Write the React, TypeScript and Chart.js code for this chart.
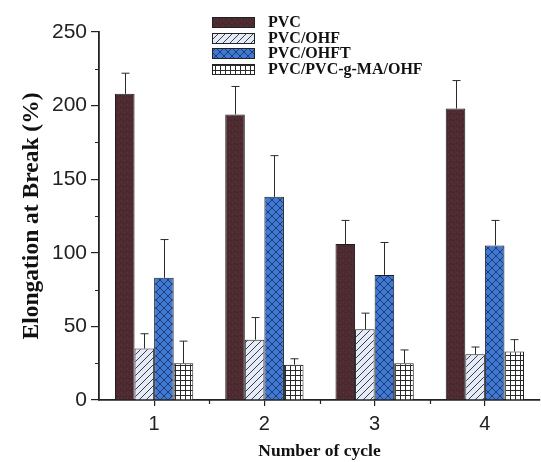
import React, { useEffect, useRef } from "react";
import { Chart, registerables } from "chart.js";
Chart.register(...registerables);

const categories = ["1", "2", "3", "4"];
const seriesNames = ["PVC", "PVC/OHF", "PVC/OHFT", "PVC/PVC-g-MA/OHF"];
const pvc = [208, 194, 106, 198];
const pvcErr = [14, 19, 16, 19];
const pvcOhf = [35, 41, 48, 31];
const pvcOhfErr = [10, 15, 11, 5];
const pvcOhft = [83, 138, 85, 105];
const pvcOhftErr = [26, 28, 22, 17];
const grafted = [25, 24, 25, 33];
const graftedErr = [15, 4, 9, 8];
const yMin = 0;
const yMax = 250;
const yStep = 50;

function makePattern(kind: string): CanvasPattern | string {
  const c = document.createElement("canvas");
  const ctx = c.getContext("2d");
  if (!ctx) return "#888";
  if (kind === "solid") {
    c.width = 6; c.height = 6;
    ctx.fillStyle = "#4d2b31";
    ctx.fillRect(0, 0, 6, 6);
    ctx.fillStyle = "#5a363c";
    ctx.fillRect(1, 2, 1, 1);
    ctx.fillRect(4, 4, 1, 1);
    ctx.fillStyle = "#3f2227";
    ctx.fillRect(3, 0, 1, 1);
    ctx.fillRect(0, 5, 1, 1);
  } else if (kind === "hatch") {
    const s = 7;
    c.width = s; c.height = s;
    ctx.fillStyle = "#e6ecf7";
    ctx.fillRect(0, 0, s, s);
    ctx.strokeStyle = "#3a3d48";
    ctx.lineWidth = 1;
    ctx.beginPath();
    ctx.moveTo(0, s); ctx.lineTo(s, 0);
    ctx.moveTo(-1, 1); ctx.lineTo(1, -1);
    ctx.moveTo(s - 1, s + 1); ctx.lineTo(s + 1, s - 1);
    ctx.stroke();
  } else if (kind === "cross") {
    const s = 8;
    c.width = s; c.height = s;
    ctx.fillStyle = "#4079d2";
    ctx.fillRect(0, 0, s, s);
    ctx.strokeStyle = "#1e3a78";
    ctx.lineWidth = 1;
    ctx.beginPath();
    ctx.moveTo(0, s); ctx.lineTo(s, 0);
    ctx.moveTo(0, 0); ctx.lineTo(s, s);
    ctx.stroke();
  } else {
    const s = 5;
    c.width = s; c.height = s;
    ctx.fillStyle = "#ffffff";
    ctx.fillRect(0, 0, s, s);
    ctx.fillStyle = "#2a2a2a";
    ctx.fillRect(0, 0, s, 1);
    ctx.fillRect(0, 0, 1, s);
  }
  return ctx.createPattern(c, "repeat") || "#888";
}

export default function App() {
  const ref = useRef<HTMLCanvasElement | null>(null);
  useEffect(() => {
    if (!ref.current) return;
    const fills = [makePattern("solid"), makePattern("hatch"), makePattern("cross"), makePattern("grid")];
    const values = [pvc, pvcOhf, pvcOhft, grafted];
    const errs = [pvcErr, pvcOhfErr, pvcOhftErr, graftedErr];

    const errorBars = {
      id: "errorBars",
      afterDatasetsDraw(chart: any) {
        const ctx = chart.ctx;
        const ys = chart.scales.y;
        ctx.save();
        ctx.strokeStyle = "#2a2a2a";
        ctx.lineWidth = 1;
        chart.data.datasets.forEach((ds: any, di: number) => {
          const meta = chart.getDatasetMeta(di);
          meta.data.forEach((bar: any, i: number) => {
            const top = ys.getPixelForValue(values[di][i] + errs[di][i]);
            const x = Math.round(bar.x) + 0.5;
            ctx.beginPath();
            ctx.moveTo(x, bar.y);
            ctx.lineTo(x, top);
            ctx.moveTo(x - 4, top);
            ctx.lineTo(x + 4, top);
            ctx.stroke();
          });
        });
        ctx.restore();
      },
    };

    const minorTicks = {
      id: "minorTicks",
      afterDraw(chart: any) {
        const ctx = chart.ctx;
        const ys = chart.scales.y;
        const xs = chart.scales.x;
        const area = chart.chartArea;
        ctx.save();
        ctx.strokeStyle = "#222";
        ctx.lineWidth = 1.2;
        ctx.beginPath();
        for (let v = yMin + yStep / 2; v < yMax; v += yStep) {
          const y = Math.round(ys.getPixelForValue(v)) + 0.5;
          ctx.moveTo(area.left, y);
          ctx.lineTo(area.left - 4, y);
        }
        for (let i = 0; i < categories.length - 1; i++) {
          const x = Math.round((xs.getPixelForValue(i) + xs.getPixelForValue(i + 1)) / 2) + 0.5;
          ctx.moveTo(x, area.bottom);
          ctx.lineTo(x, area.bottom + 4);
        }
        ctx.stroke();
        ctx.restore();
      },
    };

    const legendPlugin = {
      id: "customLegend",
      afterDraw(chart: any) {
        const ctx = chart.ctx;
        const rows = [22, 38, 53, 69];
        ctx.save();
        ctx.font = "bold 16px 'Liberation Serif', serif";
        ctx.textBaseline = "middle";
        ctx.fillStyle = "#111";
        seriesNames.forEach((name, i) => {
          const y = rows[i];
          ctx.fillStyle = fills[i] as any;
          ctx.fillRect(212, y - 5, 42, 10);
          ctx.strokeStyle = "#222";
          ctx.lineWidth = 1;
          ctx.strokeRect(212.5, y - 5 + 0.5, 42, 10);
          ctx.fillStyle = "#111";
          ctx.fillText(name, 268, y + 1);
        });
        ctx.restore();
      },
    };

    const chart = new Chart(ref.current, {
      type: "bar",
      data: {
        labels: categories,
        datasets: seriesNames.map((name, i) => ({
          label: name,
          data: values[i],
          backgroundColor: fills[i] as any,
          borderColor: "#1e1e1e",
          borderWidth: 1,
          categoryPercentage: 0.71,
          barPercentage: 1,
        })),
      },
      options: {
        animation: false,
        responsive: true,
        maintainAspectRatio: false,
        layout: { padding: { top: 32, right: 1, left: 0, bottom: 0 } },
        plugins: { legend: { display: false }, tooltip: { enabled: false } },
        scales: {
          x: {
            afterFit: (s: any) => { s.height = 62; },
            grid: { drawOnChartArea: false, offset: false, tickLength: 6, color: "#222", lineWidth: 1.2 },
            border: { color: "#222", width: 1.8 },
            ticks: { color: "#222", font: { family: "'Liberation Sans', Arial, sans-serif", size: 20 }, padding: 6 },
            title: {
              display: true,
              text: "Number of cycle",
              color: "#111",
              font: { family: "'Liberation Serif', serif", size: 17.5, weight: "bold" },
              padding: { top: 0, bottom: 0 },
            },
          },
          y: {
            min: yMin,
            max: yMax,
            afterFit: (s: any) => { s.width = 99; },
            grid: { drawOnChartArea: false, tickLength: 8, color: "#222", lineWidth: 1.2 },
            border: { color: "#222", width: 1.8 },
            ticks: { stepSize: yStep, color: "#222", font: { family: "'Liberation Sans', Arial, sans-serif", size: 21 }, padding: 4 },
            title: {
              display: true,
              text: "Elongation at Break (%)",
              color: "#111",
              font: { family: "'Liberation Serif', serif", size: 23.5, weight: "bold" },
              padding: { top: 18, bottom: 0 },
            },
          },
        },
      },
      plugins: [errorBars, minorTicks, legendPlugin],
    });
    return () => chart.destroy();
  }, []);

  return (
    <div style={{ position: "fixed", left: 0, top: 0, width: 541, height: 462, background: "#fff" }}>
      <canvas ref={ref} />
    </div>
  );
}
